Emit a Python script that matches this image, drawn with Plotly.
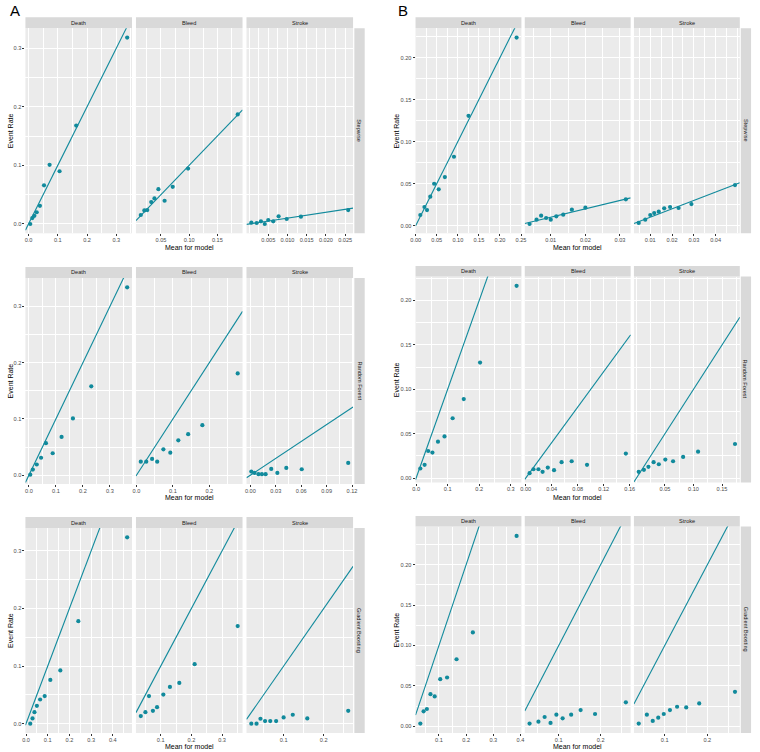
import plotly.graph_objects as go

# ---------------- data ----------------
outcomes = ["Death", "Bleed", "Stroke"]
models = ["Stepwise", "Random Forest", "Gradient Boosting"]
panels = ["A", "B"]

# Panel A - Stepwise
a_step_death_x = [0.006, 0.013, 0.020, 0.028, 0.039, 0.053, 0.072, 0.106, 0.163, 0.337]
a_step_death_y = [0.000, 0.010, 0.014, 0.020, 0.031, 0.066, 0.101, 0.090, 0.168, 0.318]
a_step_bleed_x = [0.0142, 0.0205, 0.0257, 0.0327, 0.0384, 0.0454, 0.0564, 0.0708, 0.098, 0.186]
a_step_bleed_y = [0.0153, 0.0232, 0.0238, 0.0374, 0.0436, 0.0594, 0.0396, 0.0634, 0.0945, 0.187]
a_step_stroke_x = [0.0006, 0.0020, 0.0031, 0.0041, 0.0050, 0.0063, 0.0077, 0.0098, 0.0135, 0.0258]
a_step_stroke_y = [0.0023, 0.0017, 0.0045, 0.0000, 0.0068, 0.0045, 0.0130, 0.0085, 0.0125, 0.0238]
# Panel A - Random Forest
a_rf_death_x = [0.005, 0.0145, 0.029, 0.045, 0.063, 0.088, 0.121, 0.163, 0.231, 0.364]
a_rf_death_y = [0.001, 0.010, 0.019, 0.031, 0.057, 0.039, 0.068, 0.101, 0.158, 0.334]
a_rf_bleed_x = [0.012, 0.027, 0.043, 0.057, 0.074, 0.093, 0.115, 0.142, 0.181, 0.278]
a_rf_bleed_y = [0.024, 0.024, 0.029, 0.024, 0.046, 0.040, 0.062, 0.073, 0.089, 0.181]
a_rf_stroke_x = [0.0011, 0.0049, 0.0095, 0.0136, 0.018, 0.0246, 0.0318, 0.0424, 0.0606, 0.1155]
a_rf_stroke_y = [0.0065, 0.0041, 0.0018, 0.0018, 0.0018, 0.0112, 0.0041, 0.013, 0.0106, 0.0219]
# Panel A - Gradient Boosting
a_gb_death_x = [0.0196, 0.030, 0.039, 0.050, 0.065, 0.086, 0.112, 0.158, 0.241, 0.466]
a_gb_death_y = [0.0, 0.0092, 0.020, 0.031, 0.042, 0.048, 0.076, 0.0925, 0.178, 0.3236]
a_gb_bleed_x = [0.035, 0.050, 0.0617, 0.0745, 0.088, 0.1085, 0.130, 0.1606, 0.2106, 0.351]
a_gb_bleed_y = [0.0132, 0.020, 0.048, 0.0224, 0.0287, 0.0506, 0.0638, 0.0707, 0.1034, 0.1695]
a_gb_stroke_x = [0.0195, 0.0325, 0.0423, 0.0537, 0.0667, 0.0813, 0.100, 0.1228, 0.159, 0.261]
a_gb_stroke_y = [0.0, 0.0, 0.0086, 0.0046, 0.0046, 0.0046, 0.0109, 0.0155, 0.0092, 0.0224]

# Panel B - Stepwise
b_step_death_x = [0.011, 0.0208, 0.0269, 0.0346, 0.0438, 0.0546, 0.0692, 0.0908, 0.1254, 0.2395]
b_step_death_y = [0.0127, 0.0222, 0.0186, 0.0345, 0.0499, 0.0432, 0.0578, 0.0820, 0.1307, 0.2238]
b_step_bleed_x = [0.00388, 0.00589, 0.00722, 0.00866, 0.0100, 0.0116, 0.0136, 0.0161, 0.0200, 0.0317]
b_step_bleed_y = [0.002, 0.0071, 0.0119, 0.0091, 0.0071, 0.0111, 0.0131, 0.0190, 0.0214, 0.0313]
b_step_stroke_x = [0.0047, 0.0077, 0.0100, 0.0118, 0.0139, 0.0164, 0.0191, 0.0230, 0.0289, 0.0489]
b_step_stroke_y = [0.0032, 0.0071, 0.0127, 0.0150, 0.0166, 0.0206, 0.0222, 0.0210, 0.0257, 0.0483]
# Panel B - Random Forest
b_rf_death_x = [0.0134, 0.0269, 0.0383, 0.0517, 0.0693, 0.090, 0.1158, 0.151, 0.2027, 0.3185]
b_rf_death_y = [0.0108, 0.0149, 0.0305, 0.0287, 0.041, 0.0469, 0.0674, 0.089, 0.130, 0.2164]
b_rf_bleed_x = [0.006, 0.012, 0.0196, 0.026, 0.034, 0.0436, 0.0552, 0.0707, 0.0943, 0.154]
b_rf_bleed_y = [0.0056, 0.010, 0.010, 0.0071, 0.0119, 0.0089, 0.0179, 0.019, 0.0149, 0.0276]
b_rf_stroke_x = [0.004, 0.0131, 0.021, 0.0301, 0.0392, 0.0506, 0.0642, 0.0818, 0.108, 0.1727]
b_rf_stroke_y = [0.0071, 0.0093, 0.0127, 0.0179, 0.0156, 0.0209, 0.019, 0.0238, 0.0298, 0.0384]
# Panel B - Gradient Boosting
b_gb_death_x = [0.0316, 0.0436, 0.0556, 0.0688, 0.0844, 0.1048, 0.130, 0.1648, 0.2248, 0.3857]
b_gb_death_y = [0.0033, 0.0185, 0.0214, 0.0398, 0.037, 0.0583, 0.0604, 0.083, 0.1162, 0.2357]
b_gb_bleed_x = [0.0305, 0.0516, 0.0664, 0.0805, 0.0945, 0.1094, 0.1297, 0.1523, 0.1867, 0.2602]
b_gb_bleed_y = [0.0033, 0.0057, 0.0115, 0.0041, 0.0144, 0.0099, 0.0144, 0.0201, 0.0152, 0.0296]
b_gb_stroke_x = [0.0389, 0.058, 0.0718, 0.0847, 0.0977, 0.1122, 0.129, 0.1504, 0.1809, 0.2649]
b_gb_stroke_y = [0.0033, 0.0144, 0.0066, 0.0107, 0.0152, 0.0201, 0.0242, 0.0234, 0.0283, 0.0427]

# x tick labels per panel/row/column
a_step_xticks = [["0.0", "0.1", "0.2", "0.3"], ["0.05", "0.10", "0.15"],
                 ["0.005", "0.010", "0.015", "0.020", "0.025"]]
a_rf_xticks = [["0.0", "0.1", "0.2", "0.3"], ["0.0", "0.1", "0.2"],
               ["0.00", "0.03", "0.06", "0.09", "0.12"]]
a_gb_xticks = [["0.0", "0.1", "0.2", "0.3", "0.4"], ["0.1", "0.2", "0.3"], ["0.1", "0.2"]]
b_step_xticks = [["0.00", "0.05", "0.10", "0.15", "0.20", "0.25"], ["0.01", "0.02", "0.03"],
                 ["0.01", "0.02", "0.03", "0.04"]]
b_rf_xticks = [["0.0", "0.1", "0.2", "0.3"], ["0.00", "0.04", "0.08", "0.12", "0.16"],
               ["0.05", "0.10", "0.15"]]
b_gb_xticks = [["0.1", "0.2", "0.3", "0.4"], ["0.1", "0.2"], ["0.1", "0.2"]]
# y tick labels per panel
a_yticks = ["0.0", "0.1", "0.2", "0.3"]
b_yticks = ["0.00", "0.05", "0.10", "0.15", "0.20"]

data = {
    "A": [
        [(a_step_death_x, a_step_death_y), (a_step_bleed_x, a_step_bleed_y), (a_step_stroke_x, a_step_stroke_y)],
        [(a_rf_death_x, a_rf_death_y), (a_rf_bleed_x, a_rf_bleed_y), (a_rf_stroke_x, a_rf_stroke_y)],
        [(a_gb_death_x, a_gb_death_y), (a_gb_bleed_x, a_gb_bleed_y), (a_gb_stroke_x, a_gb_stroke_y)],
    ],
    "B": [
        [(b_step_death_x, b_step_death_y), (b_step_bleed_x, b_step_bleed_y), (b_step_stroke_x, b_step_stroke_y)],
        [(b_rf_death_x, b_rf_death_y), (b_rf_bleed_x, b_rf_bleed_y), (b_rf_stroke_x, b_rf_stroke_y)],
        [(b_gb_death_x, b_gb_death_y), (b_gb_bleed_x, b_gb_bleed_y), (b_gb_stroke_x, b_gb_stroke_y)],
    ],
}
xticks = {"A": [a_step_xticks, a_rf_xticks, a_gb_xticks], "B": [b_step_xticks, b_rf_xticks, b_gb_xticks]}
yticks = {"A": a_yticks, "B": b_yticks}

# ---------------- layout geometry (pixels) ----------------
W, H = 760, 752
FONT = "Liberation Sans, Arial, sans-serif"
TEAL = "#118A9C"
col_px = {"A": [(20.7, 128.7), (132.7, 240.7), (244.7, 352.7)],
          "B": [(416.0, 523.3), (526.7, 634.0), (637.3, 744.6)]}
rstrip_px = {"A": (354.0, 364.5), "B": (745.6, 756.0)}
row_px = {"A": [(17.3, 28.3, 233.3), (267.0, 278.0, 484.0), (517.0, 528.0, 733.0)],
          "B": [(17.3, 28.3, 233.3), (266.0, 276.5, 482.5), (516.0, 526.5, 733.0)]}
xlab_y = [247, 497, 746.5]


def fx(v):
    return v / W


def fy(v):
    return 1 - v / H


def expand(vals):
    lo, hi = min(vals), max(vals)
    d = (hi - lo) * 0.05
    return [lo - d, hi + d]


def minor_breaks(ticks, rng):
    step = ticks[1] - ticks[0] if len(ticks) > 1 else 0.1
    b = list(ticks)
    if rng[0] < b[0]:
        b = [b[0] - step] + b
    if rng[1] > b[-1]:
        b = b + [b[-1] + step]
    m = [(b[i] + b[i + 1]) / 2 for i in range(len(b) - 1)] + [b[0], b[-1]]
    return [v for v in m if rng[0] <= v <= rng[1] and all(abs(v - t) > 1e-9 for t in ticks)]


fig = go.Figure()
layout = {}
shapes = []
annotations = []
k = 0
for p in panels:
    for r in range(3):
        row_y = [v for c in range(3) for v in data[p][r][c][1]]
        yr = expand(row_y)
        ytv = [float(t) for t in yticks[p]]
        s0, s1, pb = row_px[p][r]
        for c in range(3):
            k += 1
            xs, ys = data[p][r][c]
            xr = expand(xs)
            xtl = xticks[p][r][c]
            xtv = [float(t) for t in xtl]
            x0, x1 = col_px[p][c]
            xn = "x" if k == 1 else f"x{k}"
            yn = "y" if k == 1 else f"y{k}"
            # identity line y = x across the panel range
            fig.add_trace(go.Scatter(x=[xr[0], xr[1]], y=[xr[0], xr[1]], mode="lines",
                                     line=dict(color=TEAL, width=1.1), xaxis=xn, yaxis=yn,
                                     showlegend=False, hoverinfo="skip"))
            fig.add_trace(go.Scatter(x=xs, y=ys, mode="markers",
                                     marker=dict(color=TEAL, size=4.2), xaxis=xn, yaxis=yn,
                                     showlegend=False))
            common = dict(showgrid=True, gridcolor="white", gridwidth=1, zeroline=False,
                          showline=False, fixedrange=True,
                          tickfont=dict(size=5.6, color="#4D4D4D", family=FONT))
            layout["xaxis" if k == 1 else f"xaxis{k}"] = dict(
                domain=[fx(x0), fx(x1)], anchor=yn, range=xr,
                tickmode="array", tickvals=xtv, ticktext=xtl,
                ticks="outside", ticklen=2, tickwidth=0.7, tickcolor="#333333",
                ticklabelstandoff=-1,
                minor=dict(tickmode="array", tickvals=minor_breaks(xtv, xr), showgrid=True,
                           gridcolor="white", gridwidth=0.5, ticks=""),
                **common)
            ya = dict(domain=[fy(pb), fy(s1)], anchor=xn, range=yr,
                      tickmode="array", tickvals=ytv, ticktext=yticks[p],
                      minor=dict(tickmode="array", tickvals=minor_breaks(ytv, yr), showgrid=True,
                                 gridcolor="white", gridwidth=0.5, ticks=""),
                      **common)
            if c == 0:
                ya.update(ticks="outside", ticklen=2, tickwidth=0.7, tickcolor="#333333",
                          showticklabels=True)
            else:
                ya.update(ticks="", showticklabels=False)
            layout["yaxis" if k == 1 else f"yaxis{k}"] = ya
            # top strip
            shapes.append(dict(type="rect", xref="paper", yref="paper", x0=fx(x0), x1=fx(x1),
                               y0=fy(s1), y1=fy(s0), fillcolor="#D9D9D9", line=dict(width=0),
                               layer="below"))
            annotations.append(dict(text=outcomes[c], xref="paper", yref="paper",
                                    x=fx((x0 + x1) / 2), y=fy((s0 + s1) / 2), showarrow=False,
                                    font=dict(size=5.6, color="#1A1A1A", family=FONT),
                                    xanchor="center", yanchor="middle"))
        # right strip
        rx0, rx1 = rstrip_px[p]
        shapes.append(dict(type="rect", xref="paper", yref="paper", x0=fx(rx0), x1=fx(rx1),
                           y0=fy(pb), y1=fy(s1), fillcolor="#D9D9D9", line=dict(width=0),
                           layer="below"))
        annotations.append(dict(text=models[r], xref="paper", yref="paper",
                                x=fx((rx0 + rx1) / 2), y=fy((s1 + pb) / 2), showarrow=False,
                                textangle=90, font=dict(size=5.6, color="#1A1A1A", family=FONT),
                                xanchor="center", yanchor="middle"))
        # axis titles
        cx = (col_px[p][0][0] + col_px[p][2][1]) / 2
        annotations.append(dict(text="Mean for model", xref="paper", yref="paper",
                                x=fx(cx), y=fy(xlab_y[r]), showarrow=False,
                                font=dict(size=7, color="black", family=FONT),
                                xanchor="center", yanchor="middle"))
        tx = 5.5 if p == "A" else 397
        annotations.append(dict(text="Event Rate", xref="paper", yref="paper",
                                x=fx(tx), y=fy((s1 + pb) / 2), showarrow=False, textangle=-90,
                                font=dict(size=7, color="black", family=FONT),
                                xanchor="center", yanchor="middle"))
    # panel letter
    lx = 3 if p == "A" else 396
    annotations.append(dict(text=p, xref="paper", yref="paper", x=fx(lx), y=fy(10),
                            showarrow=False, font=dict(size=15, color="black", family=FONT),
                            xanchor="left", yanchor="middle"))

fig.update_layout(width=W, height=H, autosize=False, margin=dict(l=0, r=0, t=0, b=0),
                  paper_bgcolor="white", plot_bgcolor="#EBEBEB", showlegend=False,
                  shapes=shapes, annotations=annotations, **layout)
fig.write_html("out.html", config={"displayModeBar": False},
               post_script="document.body.style.margin='0';document.body.style.padding='0';"
                           "document.body.style.overflow='hidden';")
